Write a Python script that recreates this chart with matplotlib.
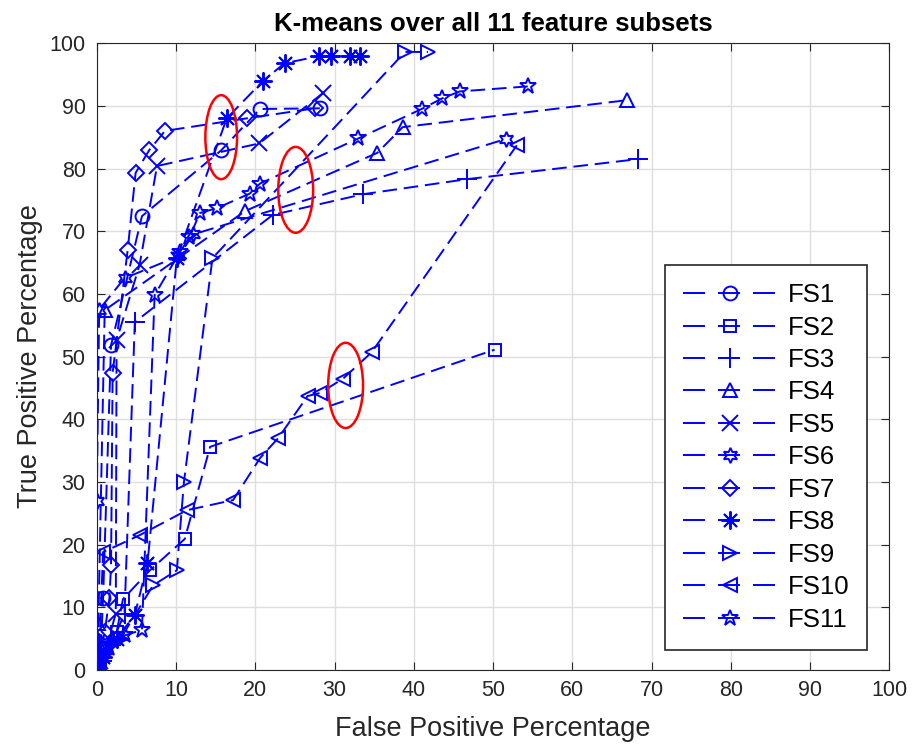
import matplotlib
matplotlib.use("Agg")
import matplotlib.pyplot as plt
from matplotlib.patches import Ellipse

plt.rcParams['font.family'] = ['Liberation Sans', 'DejaVu Sans']

# ROC points (false positive %, true positive %) per feature subset
fs1_x = [0, 0.2, 0.5, 0.8, 1.8, 5.7, 15.7, 20.6, 28.2]
fs1_y = [0, 1.0, 3.5, 11.5, 51.8, 72.4, 82.9, 89.5, 89.6]

fs2_x = [0, 0.4, 1.2, 2.5, 3.3, 6.7, 11.1, 14.3, 50.2]
fs2_y = [0, 1.5, 3.5, 6.0, 11.3, 15.9, 20.9, 35.6, 51.1]

fs3_x = [0, 0.6, 1.8, 3.5, 4.8, 22.2, 33.6, 46.7, 68.3]
fs3_y = [0, 1.5, 4.0, 9.0, 55.5, 72.6, 75.9, 78.3, 81.5]

fs4_x = [0, 0.05, 0.1, 0.2, 1.0, 18.7, 35.4, 38.6, 66.9]
fs4_y = [0, 1.0, 3.0, 7.5, 57.4, 73.2, 82.5, 86.6, 90.9]

fs5_x = [0, 0.4, 1.5, 2.4, 2.5, 5.4, 7.6, 20.5, 28.5]
fs5_y = [0, 1.5, 5.0, 9.0, 52.6, 64.6, 80.4, 84.0, 92.0]

fs6_x = [0, 0.1, 0.0, 0.3, 3.5, 10.3, 12.2, 51.6]
fs6_y = [0, 2.0, 27.0, 57.5, 62.5, 66.0, 69.5, 84.7]

fs7_x = [0, 0.3, 1.0, 1.6, 1.8, 2.0, 3.9, 4.9, 6.6, 8.6, 18.9, 27.5]
fs7_y = [0, 2.0, 6.0, 11.5, 16.7, 47.4, 67.0, 79.3, 82.9, 86.0, 88.0, 89.6]

fs8_x = [0, 0.8, 2.5, 4.8, 6.4, 10.1, 16.4, 21.0, 23.7, 28.0, 29.5, 32.0, 33.2]
fs8_y = [0, 2.0, 5.0, 8.8, 17.0, 65.7, 88.0, 94.0, 96.8, 97.9, 97.9, 97.9, 97.9]

fs9_x = [0, 0.3, 1.0, 3.0, 7.1, 10.1, 11.0, 14.6, 38.9, 41.8]
fs9_y = [0, 1.0, 2.5, 5.0, 13.5, 15.9, 30.0, 65.7, 98.6, 98.6]

fs10_x = [0, 0.1, 0.3, 0.8, 5.4, 11.4, 17.2, 20.6, 22.9, 26.6, 28.2, 31.1, 34.7, 53.0]
fs10_y = [0, 1.0, 3.0, 18.8, 21.5, 25.5, 27.1, 33.8, 37.0, 43.7, 44.2, 46.5, 50.7, 83.7]

fs11_x = [0, 0.5, 1.5, 3.5, 5.7, 7.3, 10.5, 11.7, 13.0, 15.2, 19.3, 20.6, 33.0, 41.0, 43.6, 45.8, 54.4]
fs11_y = [0, 1.5, 3.5, 5.5, 6.4, 59.8, 66.7, 69.0, 72.9, 73.7, 76.0, 77.6, 84.8, 89.5, 91.2, 92.3, 93.1]

labels = ['FS1', 'FS2', 'FS3', 'FS4', 'FS5', 'FS6', 'FS7', 'FS8', 'FS9', 'FS10', 'FS11']
xs = [fs1_x, fs2_x, fs3_x, fs4_x, fs5_x, fs6_x, fs7_x, fs8_x, fs9_x, fs10_x, fs11_x]
ys = [fs1_y, fs2_y, fs3_y, fs4_y, fs5_y, fs6_y, fs7_y, fs8_y, fs9_y, fs10_y, fs11_y]
markers = ['o', 's', '+', '^', 'x', (6, 1, 0), 'D', (8, 2, 0), '>', '<', '*']
msizes = [10, 9, 14, 10, 11, 11, 8, 13, 10, 10, 12]

# highlighted regions (center x, center y, width, height)
ell_cx = [15.7, 25.1, 31.4]
ell_cy = [85.0, 76.6, 45.4]
ell_w = [4.0, 4.4, 4.4]
ell_h = [13.4, 13.7, 13.6]

fig = plt.figure(figsize=(9.13, 7.44), dpi=100)
ax = fig.add_axes([0.106, 0.0995, 0.868, 0.8425])

for x, y, m, ms, lab in zip(xs, ys, markers, msizes, labels):
    ax.plot(x, y, color='blue', linestyle='--', dashes=(7.5, 3.5), linewidth=1.4,
            marker=m, markersize=ms, markerfacecolor='none', markeredgecolor='blue',
            markeredgewidth=1.4, label=lab)

for cx, cy, w, h in zip(ell_cx, ell_cy, ell_w, ell_h):
    ax.add_patch(Ellipse((cx, cy), w, h, fill=False, edgecolor='red', linewidth=1.8, zorder=5))

ax.set_xlim(0, 100)
ax.set_ylim(0, 100)
ax.set_xticks(range(0, 101, 10))
ax.set_yticks(range(0, 101, 10))
ax.grid(True, color='#dedede', linewidth=1)
ax.set_axisbelow(True)
ax.tick_params(direction='in', top=True, right=True, labelsize=15.5, length=6, colors='#262626')
ax.tick_params(axis='y', pad=8)
ax.tick_params(axis='x', pad=7)
for s in ax.spines.values():
    s.set_color('#262626')

ax.set_xlabel('False Positive Percentage', fontsize=19.5, color='#262626', labelpad=11)
ax.set_ylabel('True Positive Percentage', fontsize=19.5, color='#262626', labelpad=5)
ax.set_title('K-means over all 11 feature subsets', fontsize=18.5, fontweight='bold', pad=9)

leg = ax.legend(loc='upper right', bbox_to_anchor=(0.972, 0.646), borderaxespad=0,
                fontsize=18.5, handlelength=3.6, handletextpad=0.45, numpoints=1,
                fancybox=False, framealpha=1, edgecolor='#262626', labelspacing=0.33,
                borderpad=0.7)
leg.get_frame().set_linewidth(1.2)
for ln in leg.get_lines():
    ln.set_dashes((11.3, 6.7))

fig.savefig('out.png', dpi=100)
